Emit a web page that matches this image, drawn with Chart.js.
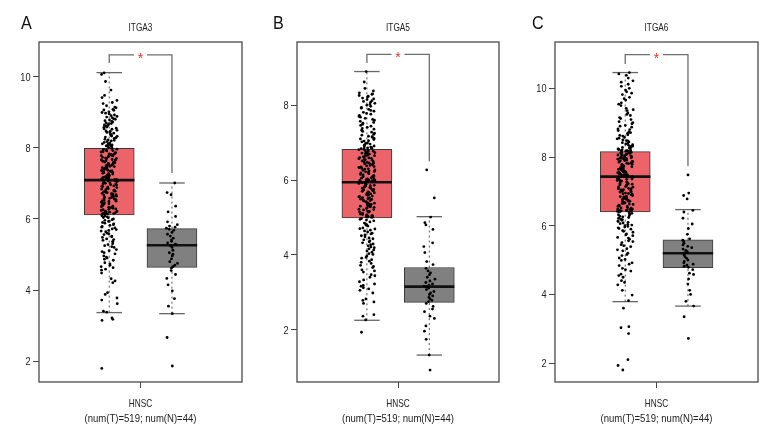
<!DOCTYPE html>
<html><head><meta charset="utf-8">
<script src="https://cdn.jsdelivr.net/npm/chart.js@4"></script>
<style>
html,body{margin:0;padding:0;background:#fff;}
#wrap{position:relative;width:780px;height:444px;overflow:hidden;background:#fff;}
canvas{position:absolute;top:0;}
</style></head><body><div id="wrap">
<canvas id="cA" width="260" height="444" style="left:0px"></canvas>
<canvas id="cB" width="260" height="444" style="left:260px"></canvas>
<canvas id="cC" width="260" height="444" style="left:520px"></canvas>
</div>
<script>
// ---------- data ----------
const panelLetters = ['A', 'B', 'C'];
const genes = ['ITGA3', 'ITGA5', 'ITGA6'];
const groups = ['Tumor', 'Normal'];
const xLabel = ['HNSC', '(num(T)=519; num(N)=44)'];
const yTicksA = [2, 4, 6, 8, 10];
const yTicksB = [2, 4, 6, 8];
const yTicksC = [2, 4, 6, 8, 10];
const yRangeA = [1.42, 10.97];
const yRangeB = [0.60, 9.69];
const yRangeC = [1.45, 11.35];
// box stats: [lower whisker, Q1, median, Q3, upper whisker]
const boxA_T = [3.37, 6.11, 7.09, 7.98, 10.11];
const boxA_N = [3.34, 4.64, 5.26, 5.73, 7.01];
const boxB_T = [2.25, 4.99, 5.94, 6.82, 8.90];
const boxB_N = [1.32, 2.73, 3.15, 3.66, 5.02];
const boxC_T = [3.79, 6.40, 7.43, 8.16, 10.46];
const boxC_N = [3.66, 4.78, 5.20, 5.59, 6.47];
// significance bracket: [tumor leg end, bracket top, normal leg end]
const bracketA = [10.38, 10.61, 7.29];
const bracketB = [9.13, 9.36, 6.50];
const bracketC = [10.71, 10.98, 7.73];

const ptsA_T = [10.10,10.06,9.86,9.47,9.41,9.33,9.24,9.18,9.12,9.08,9.05,9.01,8.97,8.95,8.90,8.88,8.84,8.81,8.80,8.76,8.72,8.70,8.67,8.63,8.61,8.58,8.55,8.52,8.49,8.47,8.43,8.41,8.38,8.35,8.33,8.30,8.26,8.24,8.21,8.19,8.15,8.13,8.10,8.08,8.05,8.03,8.00,
7.97,7.95,7.92,7.91,7.88,7.86,7.83,7.82,7.79,7.77,7.76,7.73,7.71,7.69,7.66,7.65,7.62,7.60,7.59,7.56,7.54,7.52,7.49,7.48,7.46,7.43,7.42,7.40,7.37,7.36,7.34,7.31,7.30,7.28,7.26,7.23,7.22,7.20,7.18,7.17,7.15,7.14,7.13,7.11,7.11,7.10,7.09,
7.07,7.05,7.02,7.00,6.98,6.95,6.93,6.91,6.88,6.86,6.84,6.81,6.79,6.77,6.74,6.72,6.70,6.67,6.65,6.63,6.60,6.58,6.56,6.53,6.51,6.49,6.47,6.44,6.42,6.40,6.38,6.36,6.34,6.32,6.30,6.28,6.26,6.24,6.22,6.21,6.19,6.18,6.16,6.15,6.14,6.13,6.12,
6.09,6.06,6.03,6.00,5.96,5.93,5.90,5.86,5.82,5.79,5.75,5.72,5.68,5.64,5.60,5.56,5.52,5.48,5.44,5.40,5.35,5.30,5.25,5.20,5.14,5.08,5.02,4.96,4.90,4.84,4.77,4.70,4.63,4.56,4.48,4.32,4.21,3.93,3.88,3.72,3.62,3.41,3.38,3.22,3.18,3.15,1.80];
const ptsA_T2 = [9.62,9.27,9.14,9.06,8.99,8.92,8.86,8.78,8.74,8.68,8.64,8.57,8.53,8.46,8.44,8.37,8.32,8.28,8.22,8.17,8.11,8.07,8.04,8.01,
7.96,7.93,7.89,7.85,7.81,7.78,7.74,7.70,7.67,7.63,7.58,7.55,7.51,7.47,7.44,7.39,7.35,7.32,7.27,7.24,7.19,7.16,7.12,7.10,
7.06,7.03,6.99,6.96,6.92,6.89,6.85,6.82,6.78,6.75,6.71,6.68,6.64,6.61,6.57,6.54,6.50,6.46,6.43,6.37,6.33,6.27,6.20,6.14,
6.08,6.04,5.98,5.94,5.88,5.84,5.77,5.70,5.66,5.58,5.50,5.42,5.37,5.28,5.22,5.11,5.05,4.93,4.87,4.74,4.66,4.59,4.26,3.78];
const ptsA_N = [7.01,6.74,6.68,6.36,6.20,6.07,5.92,5.84,5.80,5.77,5.74,5.71,5.68,5.62,5.57,5.52,5.46,5.41,5.37,5.33,5.29,5.27,
5.25,5.20,5.12,5.05,5.01,4.96,4.88,4.80,4.75,4.70,4.66,4.62,4.55,4.44,4.33,4.15,3.98,3.76,3.55,3.34,2.67,1.87];

const ptsB_T = [8.90,8.62,8.38,8.33,8.29,8.26,8.22,8.19,8.15,8.12,8.08,8.05,8.00,7.97,7.92,7.89,7.84,7.81,7.76,7.73,7.68,7.65,7.60,7.57,7.52,7.49,7.44,7.41,7.36,7.33,7.28,7.25,7.20,7.17,7.14,7.11,7.08,7.05,7.02,6.99,6.96,6.94,6.91,6.89,6.87,6.85,6.83,
6.81,6.79,6.76,6.75,6.72,6.71,6.69,6.66,6.65,6.63,6.60,6.59,6.57,6.54,6.53,6.51,6.48,6.47,6.45,6.42,6.41,6.39,6.36,6.35,6.33,6.30,6.29,6.27,6.24,6.23,6.21,6.18,6.17,6.15,6.12,6.11,6.09,6.07,6.05,6.03,6.01,6.00,5.99,5.98,5.97,5.96,5.95,
5.93,5.91,5.88,5.86,5.84,5.81,5.80,5.77,5.75,5.72,5.71,5.68,5.66,5.64,5.61,5.60,5.57,5.55,5.53,5.50,5.49,5.46,5.44,5.42,5.39,5.38,5.35,5.33,5.31,5.28,5.27,5.24,5.22,5.20,5.17,5.16,5.14,5.11,5.10,5.08,5.07,5.05,5.04,5.03,5.02,5.01,5.00,
4.97,4.93,4.88,4.85,4.80,4.77,4.72,4.69,4.64,4.61,4.56,4.53,4.48,4.45,4.40,4.37,4.32,4.29,4.24,4.21,4.16,4.13,4.07,4.03,3.97,3.93,3.87,3.83,3.77,3.72,3.66,3.60,3.54,3.47,3.40,3.33,3.22,3.16,3.12,3.05,2.98,2.82,2.74,2.70,2.36,2.26,1.93];
const ptsB_T2 = [8.45,8.30,8.24,8.17,8.10,8.02,7.94,7.86,7.78,7.70,7.62,7.54,7.46,7.38,7.30,7.22,7.16,7.10,7.04,6.98,6.92,6.88,6.86,6.84,
6.80,6.77,6.73,6.70,6.67,6.62,6.58,6.55,6.50,6.46,6.43,6.38,6.34,6.31,6.26,6.22,6.19,6.14,6.10,6.06,6.02,5.99,5.97,5.95,
5.92,5.89,5.85,5.82,5.78,5.74,5.70,5.67,5.63,5.59,5.56,5.52,5.48,5.45,5.41,5.37,5.34,5.30,5.26,5.21,5.15,5.09,5.05,5.01,
4.95,4.91,4.83,4.79,4.70,4.66,4.58,4.51,4.43,4.35,4.27,4.19,4.10,4.01,3.91,3.80,3.69,3.57,3.44,3.28,3.18,3.09,2.78,2.40];
const ptsB_N = [6.27,5.52,5.01,4.86,4.80,4.68,4.32,4.22,4.06,3.82,3.74,3.64,3.57,3.52,3.47,3.40,3.35,3.30,3.26,3.22,3.19,3.16,
3.14,3.11,3.07,3.02,2.98,2.94,2.90,2.86,2.82,2.78,2.75,2.70,2.62,2.55,2.48,2.36,2.30,2.10,1.96,1.74,1.32,0.92];

const ptsC_T = [10.46,10.38,10.30,10.22,10.12,10.06,10.00,9.90,9.82,9.74,9.66,9.58,9.50,9.42,9.35,9.28,9.21,9.15,9.09,9.03,8.97,8.92,8.87,8.82,8.77,8.73,8.69,8.65,8.61,8.57,8.53,8.50,8.47,8.44,8.41,8.38,8.35,8.32,8.30,8.28,8.26,8.24,8.22,8.20,8.19,8.18,8.17,
8.15,8.13,8.12,8.09,8.08,8.06,8.05,8.03,8.01,8.00,7.98,7.96,7.95,7.93,7.91,7.90,7.88,7.86,7.85,7.83,7.81,7.79,7.77,7.76,7.74,7.72,7.70,7.69,7.66,7.65,7.63,7.61,7.60,7.58,7.56,7.55,7.53,7.51,7.50,7.49,7.48,7.47,7.46,7.45,7.44,7.44,7.43,
7.42,7.40,7.37,7.35,7.33,7.30,7.28,7.26,7.23,7.21,7.19,7.16,7.14,7.12,7.09,7.07,7.05,7.02,7.00,6.98,6.95,6.93,6.91,6.88,6.86,6.84,6.81,6.79,6.77,6.74,6.72,6.70,6.67,6.65,6.63,6.60,6.58,6.56,6.53,6.51,6.49,6.47,6.45,6.44,6.43,6.42,6.41,
6.38,6.34,6.30,6.26,6.22,6.18,6.14,6.10,6.06,6.02,5.98,5.94,5.90,5.86,5.81,5.76,5.71,5.66,5.61,5.56,5.51,5.45,5.39,5.33,5.27,5.20,5.13,5.06,4.99,4.92,4.84,4.76,4.68,4.59,4.50,4.40,4.28,4.12,3.98,3.82,3.60,3.06,3.03,2.86,2.10,1.93,1.80];
const ptsC_T2 = [10.42,10.18,9.95,9.86,9.70,9.54,9.38,9.24,9.12,9.00,8.90,8.80,8.71,8.63,8.55,8.48,8.42,8.36,8.31,8.27,8.23,8.21,8.19,8.17,
8.14,8.11,8.07,8.04,8.00,7.97,7.94,7.89,7.87,7.82,7.78,7.75,7.71,7.67,7.64,7.59,7.57,7.54,7.50,7.48,7.46,7.45,7.44,7.43,
7.41,7.36,7.32,7.27,7.22,7.18,7.13,7.08,7.04,6.99,6.94,6.90,6.85,6.80,6.76,6.71,6.66,6.62,6.57,6.52,6.48,6.45,6.43,6.41,
6.36,6.32,6.28,6.24,6.20,6.16,6.12,6.08,6.04,6.00,5.96,5.92,5.84,5.74,5.64,5.54,5.42,5.30,5.16,5.02,4.88,4.72,4.55,4.35];
const ptsC_N = [7.48,6.95,6.88,6.78,6.45,6.40,6.22,6.05,5.92,5.75,5.62,5.58,5.54,5.49,5.44,5.40,5.36,5.32,5.28,5.25,5.23,5.21,
5.19,5.15,5.10,5.05,5.00,4.96,4.92,4.88,4.85,4.82,4.79,4.72,4.62,4.58,4.45,4.30,4.12,4.00,3.80,3.66,3.35,2.72];

// ---------- style / layout ----------
const FONT = "'Liberation Sans', Arial, sans-serif";
const TUMOR = '#EC6469';
const NORMAL = '#808080';
const POS = [0.346, 0.655];  // group centres on the 0..1 x scale
const BOX_PX = 50;
const CAP_HALF = 0.063;
const BOX_HALF = 0.124;

const panels = [
  {id:'cA', yW:39, padR:18, letterX:21, letter:panelLetters[0], gene:genes[0], range:yRangeA, ticks:yTicksA, box:[boxA_T, boxA_N], pts:[ptsA_T.concat(ptsA_T2), ptsA_N], br:bracketA},
  {id:'cB', yW:37, padR:21, letterX:13, letter:panelLetters[1], gene:genes[1], range:yRangeB, ticks:yTicksB, box:[boxB_T, boxB_N], pts:[ptsB_T.concat(ptsB_T2), ptsB_N], br:bracketB},
  {id:'cC', yW:35, padR:22, letterX:12, letter:panelLetters[2], gene:genes[2], range:yRangeC, ticks:yTicksC, box:[boxC_T, boxC_N], pts:[ptsC_T.concat(ptsC_T2), ptsC_N], br:bracketC}
];

// deterministic horizontal jitter (position only, not data)
function jitter(i, w, seed) {
  const s = Math.sin((i + 1) * 78.233 + seed * 12.9898) * 43758.5453;
  const h = s - Math.floor(s);
  return (h - 0.5) * 2 * w;
}
function seg(points, color, width, dash, order) {
  return {type:'line', data:points, borderColor:color, borderWidth:width, borderDash:dash || [],
          pointRadius:0, fill:false, tension:0, showLine:true, order:order, borderCapStyle:'butt'};
}
// condensed text: draw with a horizontal squeeze
function ctext(ctx, str, x, y, size, sx, align, color) {
  ctx.save();
  ctx.font = size + 'px ' + FONT;
  ctx.fillStyle = color;
  ctx.textAlign = align;
  ctx.textBaseline = 'alphabetic';
  ctx.translate(x, y);
  ctx.scale(sx, 1);
  ctx.fillText(str, 0, 0);
  ctx.restore();
}

function makeDecor(p) {
  return {
    id:'decor',
    afterDraw(chart) {
      const {ctx, chartArea:a, scales:{x, y}} = chart;
      ctx.save();
      ctx.strokeStyle = '#4a4a4a'; ctx.lineWidth = 1.3;
      ctx.strokeRect(a.left, a.top, a.right - a.left, a.bottom - a.top);
      ctx.restore();
      y.ticks.forEach(t => {
        ctext(ctx, String(t.value), a.left - 8.5, y.getPixelForValue(t.value) + 4, 11.5, 0.8, 'right', '#222');
      });
      const cx = x.getPixelForValue(0.5);
      ctext(ctx, xLabel[0], cx, a.bottom + 25, 11.5, 0.72, 'center', '#222');
      ctext(ctx, xLabel[1], cx, a.bottom + 40, 11.5, 0.83, 'center', '#222');
      ctext(ctx, '*', cx, y.getPixelForValue(p.br[1]) + 8, 14, 1, 'center', '#e8332e');
      ctext(ctx, p.gene, (a.left + a.right) / 2, 31, 11.5, 0.72, 'center', '#222');
      ctext(ctx, p.letter, p.letterX, 29, 19, 0.85, 'left', '#111');
    }
  };
}

function buildPanel(p, pi) {
  const ds = [];
  const cT = POS[0], cN = POS[1];
  ds.push(seg([{x:cT, y:p.br[0]}, {x:cT, y:p.br[1]}, {x:0.468, y:p.br[1]}], '#6e6e6e', 1.3, null, 6));
  ds.push(seg([{x:0.532, y:p.br[1]}, {x:cN, y:p.br[1]}, {x:cN, y:p.br[2]}], '#6e6e6e', 1.3, null, 6));
  groups.forEach((g, gi) => {
    const c = POS[gi], b = p.box[gi];
    ds.push(seg([{x:c, y:b[0]}, {x:c, y:b[1]}], '#555', 1, [2, 3], 7));
    ds.push(seg([{x:c, y:b[3]}, {x:c, y:b[4]}], '#555', 1, [2, 3], 7));
    ds.push(seg([{x:c - CAP_HALF, y:b[0]}, {x:c + CAP_HALF, y:b[0]}], '#666', 1.3, null, 7));
    ds.push(seg([{x:c - CAP_HALF, y:b[4]}, {x:c + CAP_HALF, y:b[4]}], '#666', 1.3, null, 7));
    ds.push(seg([{x:c - BOX_HALF, y:b[2]}, {x:c + BOX_HALF, y:b[2]}], '#111', 2.6, null, 3));
  });
  ds.push({type:'bar', data:[{x:POS[0], y:[p.box[0][1], p.box[0][3]]}, {x:POS[1], y:[p.box[1][1], p.box[1][3]]}],
           backgroundColor:[TUMOR, NORMAL], borderColor:'#3a3a3a', borderWidth:1, borderSkipped:false,
           barThickness:BOX_PX, grouped:false, order:5});
  groups.forEach((g, gi) => {
    const w = gi === 0 ? 0.04 : 0.028;
    ds.push({type:'scatter', data:p.pts[gi].map((v, i) => ({x:POS[gi] + jitter(i, w, pi * 3 + gi), y:v})),
             pointRadius:1.4, pointBorderWidth:0, backgroundColor:'#000', borderColor:'#000', order:1});
  });

  new Chart(document.getElementById(p.id), {
    type:'scatter',
    data:{datasets:ds},
    plugins:[makeDecor(p)],
    options:{
      responsive:false, animation:false, events:[],
      layout:{padding:{left:0, right:p.padR, top:42, bottom:0}},
      plugins:{legend:{display:false}, tooltip:{enabled:false}, title:{display:false}},
      scales:{
        x:{type:'linear', min:0, max:1, offset:false,
           afterBuildTicks:(s) => { s.ticks = [{value:0.5}]; },
           afterFit:(s) => { s.height = 62; },
           ticks:{display:false},
           grid:{offset:false, drawOnChartArea:false, drawTicks:true, tickLength:6, color:'#444', lineWidth:1},
           border:{display:false}},
        y:{type:'linear', min:p.range[0], max:p.range[1],
           afterBuildTicks:(s) => { s.ticks = p.ticks.map(v => ({value:v})); },
           afterFit:(s) => { s.width = p.yW; },
           ticks:{display:false},
           grid:{drawOnChartArea:false, drawTicks:true, tickLength:6, color:'#444', lineWidth:1},
           border:{display:false}}
      }
    }
  });
}
panels.forEach(buildPanel);
</script>
</body></html>
